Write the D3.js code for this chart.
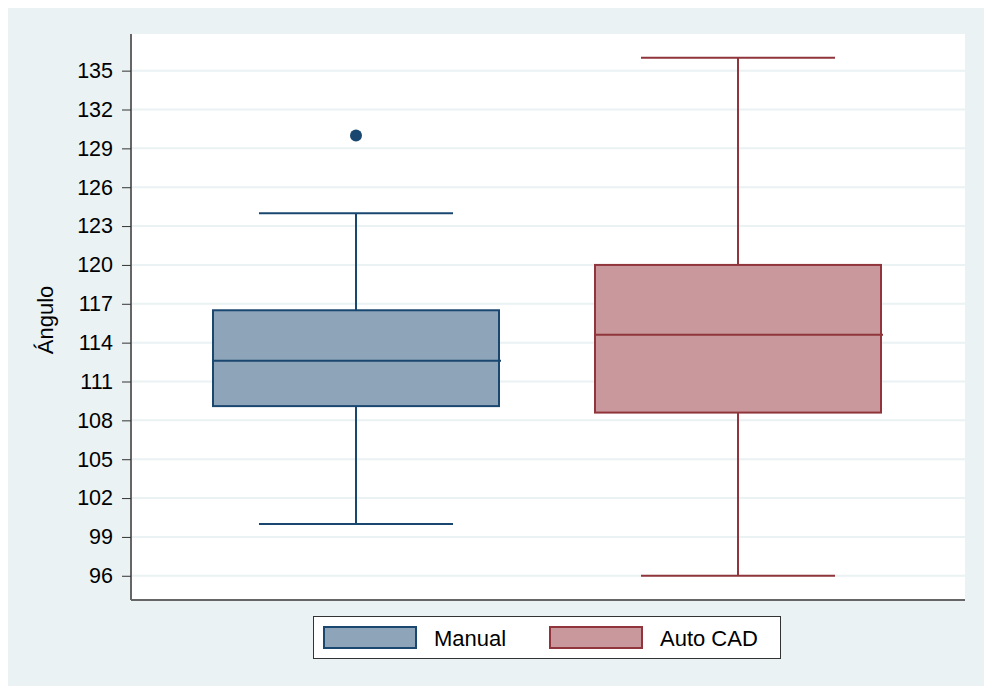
<!DOCTYPE html>
<html>
<head>
<meta charset="utf-8">
<script src="https://cdn.jsdelivr.net/npm/d3@7"></script>
<style>
  html, body { margin: 0; padding: 0; background: #ffffff; }
  svg { display: block; font-family: "Liberation Sans", Arial, sans-serif; }
</style>
</head>
<body>
<svg id="chart" width="984" height="686"></svg>
<script>
// Groups and their five-number summaries plus outliers
const groups = ["Manual", "Auto CAD"];
const whiskerLow = [100, 96];
const q1 = [109.1, 108.6];
const median = [112.6, 114.6];
const q3 = [116.5, 120];
const whiskerHigh = [124, 136];
const outliers = [[130], []];
const yTicks = [96, 99, 102, 105, 108, 111, 114, 117, 120, 123, 126, 129, 132, 135];
const yLabel = "Ángulo";

const strokeColors = ["#1a476f", "#90353b"];
const fillColors = ["#8ea4b9", "#c8989c"];

const svg = d3.select("#chart");
const W = 984, H = 686;
const plot = { left: 131, right: 965, top: 34, bottom: 600 };

// Graph region background
svg.append("rect").attr("x", 8).attr("y", 8).attr("width", W - 8).attr("height", H - 8)
  .attr("fill", "#eaf2f3");
svg.append("rect").attr("x", plot.left).attr("y", plot.top)
  .attr("width", plot.right - plot.left).attr("height", plot.bottom - plot.top)
  .attr("fill", "#ffffff");

const y = d3.scaleLinear().domain([94.13, 137.83]).range([plot.bottom, plot.top]);
const x = d3.scalePoint().domain(groups).range([356, 738]);

// Grid lines
svg.append("g").selectAll("line").data(yTicks).join("line")
  .attr("x1", plot.left).attr("x2", plot.right)
  .attr("y1", d => y(d)).attr("y2", d => y(d))
  .attr("stroke", "#eaf2f3").attr("stroke-width", 2);

// Y axis
const yAxis = d3.axisLeft(y).tickValues(yTicks).tickSize(9).tickPadding(9).tickSizeOuter(0);
const gy = svg.append("g").attr("transform", `translate(${plot.left},0)`).call(yAxis);
gy.select(".domain").attr("stroke", "#666666").attr("stroke-width", 2)
  .attr("d", `M0,${plot.top}V${plot.bottom}`);
gy.selectAll(".tick line").attr("stroke", "#333333").attr("stroke-width", 1);
gy.selectAll(".tick text").attr("font-size", 21.5).attr("fill", "#000")
  .attr("font-family", "Liberation Sans, Arial, sans-serif");

// Bottom border of plot region
svg.append("line").attr("x1", plot.left).attr("x2", plot.right)
  .attr("y1", plot.bottom).attr("y2", plot.bottom)
  .attr("stroke", "#666666").attr("stroke-width", 2);

svg.append("text").attr("transform", `translate(53,320) rotate(-90)`)
  .attr("text-anchor", "middle").attr("font-size", 22).attr("fill", "#000")
  .text(yLabel);

// Boxes
const boxHalf = 143, capHalf = 97;
const g = svg.append("g");
groups.forEach((name, i) => {
  const cx = x(name);
  const sc = strokeColors[i];
  const gg = g.append("g");
  // whiskers
  gg.append("line").attr("x1", cx).attr("x2", cx).attr("y1", y(q3[i])).attr("y2", y(whiskerHigh[i]))
    .attr("stroke", sc).attr("stroke-width", 2);
  gg.append("line").attr("x1", cx).attr("x2", cx).attr("y1", y(q1[i])).attr("y2", y(whiskerLow[i]))
    .attr("stroke", sc).attr("stroke-width", 2);
  gg.append("line").attr("x1", cx - capHalf).attr("x2", cx + capHalf)
    .attr("y1", y(whiskerHigh[i])).attr("y2", y(whiskerHigh[i]))
    .attr("stroke", sc).attr("stroke-width", 2);
  gg.append("line").attr("x1", cx - capHalf).attr("x2", cx + capHalf)
    .attr("y1", y(whiskerLow[i])).attr("y2", y(whiskerLow[i]))
    .attr("stroke", sc).attr("stroke-width", 2);
  // box
  gg.append("rect").attr("x", cx - boxHalf).attr("width", boxHalf * 2)
    .attr("y", y(q3[i])).attr("height", y(q1[i]) - y(q3[i]))
    .attr("fill", fillColors[i]).attr("stroke", sc).attr("stroke-width", 2);
  // median
  gg.append("line").attr("x1", cx - boxHalf).attr("x2", cx + boxHalf + 2)
    .attr("y1", y(median[i])).attr("y2", y(median[i]))
    .attr("stroke", sc).attr("stroke-width", 2);
  // outliers
  gg.selectAll("circle").data(outliers[i]).join("circle")
    .attr("cx", cx).attr("cy", d => y(d)).attr("r", 6).attr("fill", sc);
});

// Legend
const lg = svg.append("g");
lg.append("rect").attr("x", 313.5).attr("y", 616.5).attr("width", 467).attr("height", 42)
  .attr("fill", "#ffffff").attr("stroke", "#333333").attr("stroke-width", 1);
const legendX = [324, 550];
groups.forEach((name, i) => {
  lg.append("rect").attr("x", legendX[i]).attr("y", 627).attr("width", 92).attr("height", 21)
    .attr("fill", fillColors[i]).attr("stroke", strokeColors[i]).attr("stroke-width", 2);
  lg.append("text").attr("x", legendX[i] + 110).attr("y", 646)
    .attr("font-size", 22).attr("fill", "#000").text(name);
});
</script>
</body>
</html>
